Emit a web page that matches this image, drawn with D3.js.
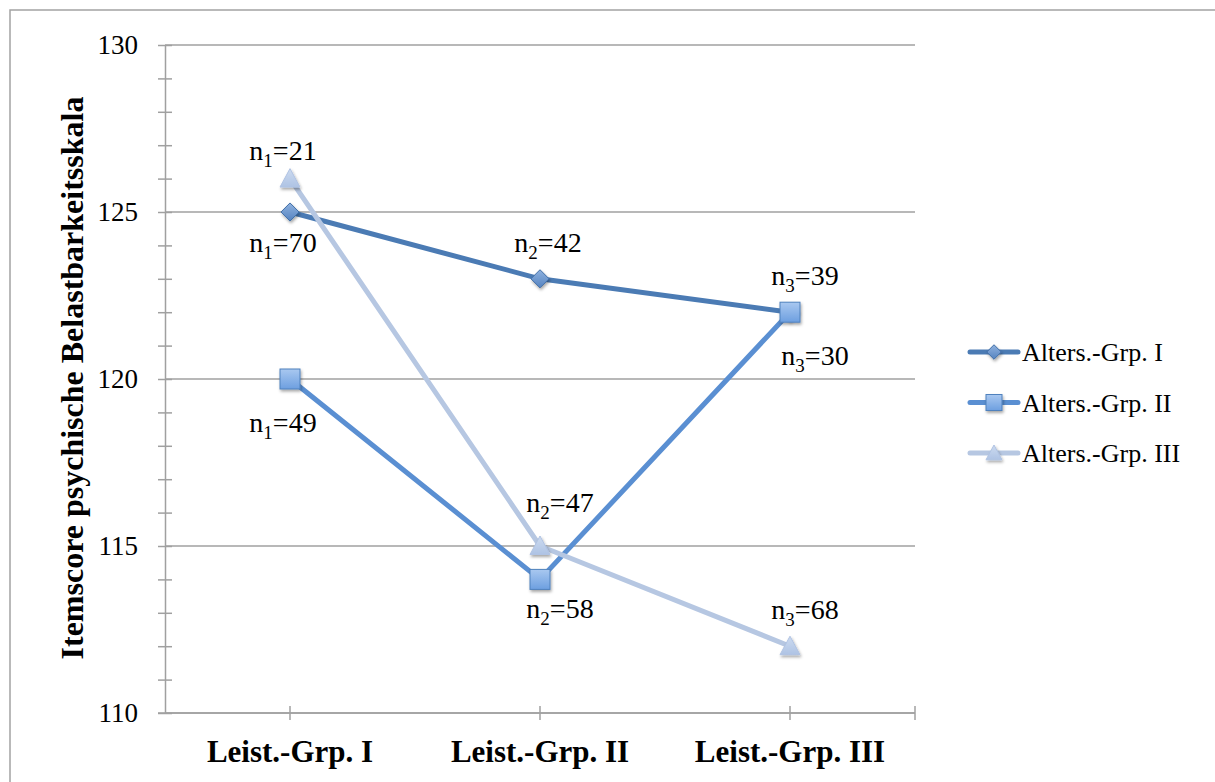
<!DOCTYPE html>
<html>
<head>
<meta charset="utf-8">
<script src="https://cdn.jsdelivr.net/npm/d3@7"></script>
<style>
  html, body { margin: 0; padding: 0; background: #fff; }
  svg { display: block; }
</style>
</head>
<body>
<div id="chart"></div>
<script>
// Kategorien (Leistungsgruppen) und Mittelwerte je Altersgruppe
const categories = ["Leist.-Grp. I", "Leist.-Grp. II", "Leist.-Grp. III"];
const seriesNames = ["Alters.-Grp. I", "Alters.-Grp. II", "Alters.-Grp. III"];
const alterI = [125, 123, 122];
const alterII = [120, 114, 122];
const alterIII = [126, 115, 112];
// Stichprobengrößen je Punkt
const nAlterI = [70, 42, 39];
const nAlterII = [49, 58, 30];
const nAlterIII = [21, 47, 68];
const yTicks = [110, 115, 120, 125, 130];

const W = 1215, H = 782;
const SERIF = "'Liberation Serif', 'Times New Roman', Times, serif";
const svg = d3.select("#chart").append("svg").attr("width", W).attr("height", H)
  .attr("font-family", SERIF);

const defs = svg.append("defs");
const shadow = defs.append("filter").attr("id", "shadow")
  .attr("x", "-50%").attr("y", "-50%").attr("width", "200%").attr("height", "200%");
shadow.append("feDropShadow").attr("dx", 1).attr("dy", 2).attr("stdDeviation", 1.6)
  .attr("flood-color", "#000").attr("flood-opacity", 0.35);
const sq = defs.append("linearGradient").attr("id", "sqFill").attr("x1", 0).attr("y1", 0).attr("x2", 0).attr("y2", 1);
sq.append("stop").attr("offset", "0%").attr("stop-color", "#a9c8f0");
sq.append("stop").attr("offset", "100%").attr("stop-color", "#6d9fe0");
const dm = defs.append("linearGradient").attr("id", "dmFill").attr("x1", 0).attr("y1", 0).attr("x2", 0).attr("y2", 1);
dm.append("stop").attr("offset", "0%").attr("stop-color", "#8fb2df");
dm.append("stop").attr("offset", "100%").attr("stop-color", "#5583c0");
const tr = defs.append("linearGradient").attr("id", "trFill").attr("x1", 0).attr("y1", 0).attr("x2", 0).attr("y2", 1);
tr.append("stop").attr("offset", "0%").attr("stop-color", "#cddbf0");
tr.append("stop").attr("offset", "100%").attr("stop-color", "#aec3e4");

// Rahmen des Diagrammbereichs
svg.append("rect").attr("x", 10).attr("y", 10).attr("width", W).attr("height", H)
  .attr("fill", "none").attr("stroke", "#a3a3a3").attr("stroke-width", 1.5);

const plot = { left: 165, right: 915, top: 45, bottom: 713 };
const x = d3.scaleBand().domain(categories).range([plot.left, plot.right]);
const y = d3.scaleLinear().domain([110, 130]).range([plot.bottom, plot.top]);
const cx = c => x(c) + x.bandwidth() / 2;

const axisColor = "#a0a0a0";

// Gitterlinien
svg.append("g").selectAll("line").data(yTicks).join("line")
  .attr("x1", plot.left).attr("x2", plot.right)
  .attr("y1", d => y(d)).attr("y2", d => y(d))
  .attr("stroke", axisColor).attr("stroke-width", 1.5);

// Y-Achse mit Haupt- und Nebenstrichen
const yAxis = d3.axisLeft(y).tickValues(d3.range(110, 131, 1)).tickSize(0).tickFormat("");
const gy = svg.append("g").attr("transform", `translate(${plot.left},0)`).call(yAxis);
gy.attr("font-family", SERIF);
gy.select(".domain").attr("stroke", axisColor).attr("stroke-width", 1.5);
gy.selectAll(".tick").append("line")
  .attr("x1", -7).attr("x2", 7).attr("stroke", axisColor).attr("stroke-width", 1.5);
svg.append("g").selectAll("text").data(yTicks).join("text")
  .attr("x", 138).attr("y", d => y(d)).attr("dy", "0.35em")
  .attr("text-anchor", "end").style("font-size", "27px")
  .text(d => d);

// X-Achse
svg.append("line").attr("x1", plot.left - 7).attr("x2", plot.right)
  .attr("y1", plot.bottom).attr("y2", plot.bottom)
  .attr("stroke", axisColor).attr("stroke-width", 1.5);
const xTickPos = categories.map(cx).concat([plot.right]);
svg.append("g").selectAll("line").data(xTickPos).join("line")
  .attr("x1", d => d).attr("x2", d => d)
  .attr("y1", plot.bottom - 7).attr("y2", plot.bottom + 7)
  .attr("stroke", axisColor).attr("stroke-width", 1.5);
svg.append("g").selectAll("text").data(categories).join("text")
  .attr("x", d => cx(d)).attr("y", 762)
  .attr("text-anchor", "middle").style("font-size", "31px").style("font-weight", "bold")
  .text(d => d);

// Achsentitel
svg.append("text")
  .attr("transform", `translate(83,378) rotate(-90)`)
  .attr("text-anchor", "middle").style("font-size", "32px").style("font-weight", "bold")
  .text("Itemscore psychische Belastbarkeitsskala");

const series = [
  { name: seriesNames[0], values: alterI, n: nAlterI, color: "#4b7bb4", marker: "diamond" },
  { name: seriesNames[1], values: alterII, n: nAlterII, color: "#5a8fd2", marker: "square" },
  { name: seriesNames[2], values: alterIII, n: nAlterIII, color: "#b6c7e2", marker: "triangle" }
];

function drawMarker(g, type, px, py, scale) {
  const s = scale || 1;
  if (type === "diamond") {
    g.append("path").attr("d", d3.symbol(d3.symbolDiamond2, 210 * s * s)())
      .attr("transform", `translate(${px},${py})`)
      .attr("fill", "url(#dmFill)").attr("stroke", "#3f6da6").attr("stroke-width", 1)
      .attr("filter", "url(#shadow)");
  } else if (type === "square") {
    const h = 10 * s;
    g.append("rect").attr("x", px - h).attr("y", py - h).attr("width", 2 * h).attr("height", 2 * h)
      .attr("fill", "url(#sqFill)").attr("stroke", "#4f81bd").attr("stroke-width", 1)
      .attr("filter", "url(#shadow)");
  } else {
    const h = 10 * s;
    g.append("path")
      .attr("d", `M${px},${py - h} L${px + h},${py + h * 0.85} L${px - h},${py + h * 0.85} Z`)
      .attr("fill", "url(#trFill)").attr("stroke", "#b0c3e3").attr("stroke-width", 1)
      .attr("filter", "url(#shadow)");
  }
}

const line = d3.line().x((d, i) => cx(categories[i])).y(d => y(d));

// Linien und Markierungen je Altersgruppe
series.forEach(s => {
  const g = svg.append("g");
  g.append("path").datum(s.values).attr("d", line)
    .attr("fill", "none").attr("stroke", s.color).attr("stroke-width", 5)
    .attr("stroke-linejoin", "round").attr("stroke-linecap", "round");
  s.values.forEach((v, i) => drawMarker(g, s.marker, cx(categories[i]), y(v)));
});

// Beschriftungen n_k = ... (Versatz relativ zum Datenpunkt)
const labelOffsets = [
  [[-7, 40], [8, -27], [15, -27]],
  [[-7, 53], [20, 39], [25, 53]],
  [[-7, -19], [20, -34], [15, -27]]
];
const lg = svg.append("g");
series.forEach((s, si) => {
  s.values.forEach((v, i) => {
    const [dx, dy] = labelOffsets[si][i];
    const t = lg.append("text")
      .attr("x", cx(categories[i]) + dx).attr("y", y(v) + dy)
      .attr("text-anchor", "middle").style("font-size", "28px");
    t.append("tspan").text("n");
    t.append("tspan").attr("dy", 7).style("font-size", "19px").text(i + 1);
    t.append("tspan").attr("dy", -7).text("=" + s.n[i]);
  });
});

// Legende
const leg = svg.append("g");
series.forEach((s, i) => {
  const ly = 352 + i * 50.5;
  leg.append("line").attr("x1", 970).attr("x2", 1018).attr("y1", ly).attr("y2", ly)
    .attr("stroke", s.color).attr("stroke-width", 5).attr("stroke-linecap", "round");
  drawMarker(leg, s.marker, 994, ly, 0.8);
  leg.append("text").attr("x", 1022).attr("y", ly).attr("dy", "0.35em")
    .style("font-size", "26px").text(s.name);
});
</script>
</body>
</html>
